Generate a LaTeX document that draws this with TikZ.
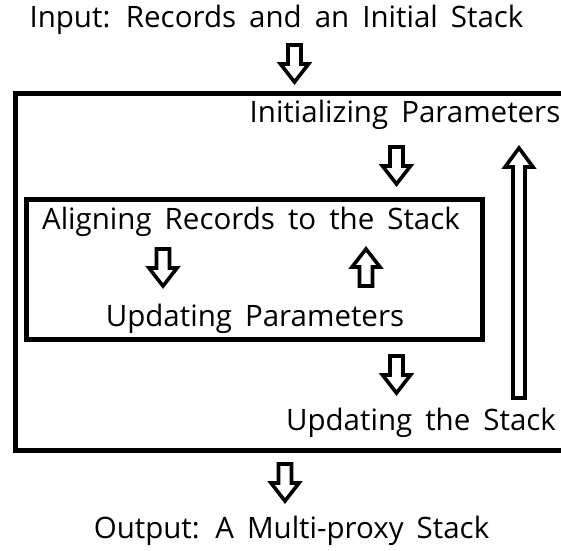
\documentclass[tikz,border=0pt]{standalone}
\usepackage{fontspec}
\setmainfont[WordSpace=1.7]{Open Sans}
\begin{document}
\begin{tikzpicture}[x=1pt,y=-1pt,
  lbl/.style={inner sep=0pt,anchor=base,font=\fontsize{29.5}{34}\selectfont},
  boxline/.style={draw=black,line width=5pt},
  blockarrow/.style={draw=black,fill=white,line width=3.6pt,line join=miter},
  downarr/.pic={\draw[blockarrow] (-6.5,0) -- (6.5,0) -- (6.5,19) -- (14,19) -- (0,37) -- (-14,19) -- (-6.5,19) -- cycle;},
  uparr/.pic={\draw[blockarrow] (-6.5,0) -- (6.5,0) -- (6.5,-19) -- (14,-19) -- (0,-37) -- (-14,-19) -- (-6.5,-19) -- cycle;}
]
\useasboundingbox[fill=white] (0,0) rectangle (561,550);
% boxes
\draw[boxline] (15.5,93.5) rectangle (590,450);
\draw[boxline] (26,199.5) rectangle (482.5,339);
% texts
\node[lbl] (in) at (276.5,27) {Input: Records and an Initial Stack};
\node[lbl] (init) at (405,122) {Initializing Parameters};
\node[lbl] (align) at (251,229) {Aligning Records to the Stack};
\node[lbl] (upar) at (255,326) {Updating Parameters};
\node[lbl] (ustk) at (421,430) {Updating the Stack};
\node[lbl] (out) at (291.5,538) {Output: A Multi-proxy Stack};
% arrows
\pic at (294.5,45) {downarr};
\pic at (396.5,147) {downarr};
\pic at (163,249) {downarr};
\pic at (366,286) {uparr};
\pic at (396.5,356) {downarr};
\pic at (285,464) {downarr};
\draw[blockarrow] (513,398) -- (525,398) -- (525,167) -- (533,167) -- (519,148) -- (505,167) -- (513,167) -- cycle;
\end{tikzpicture}
\end{document}
